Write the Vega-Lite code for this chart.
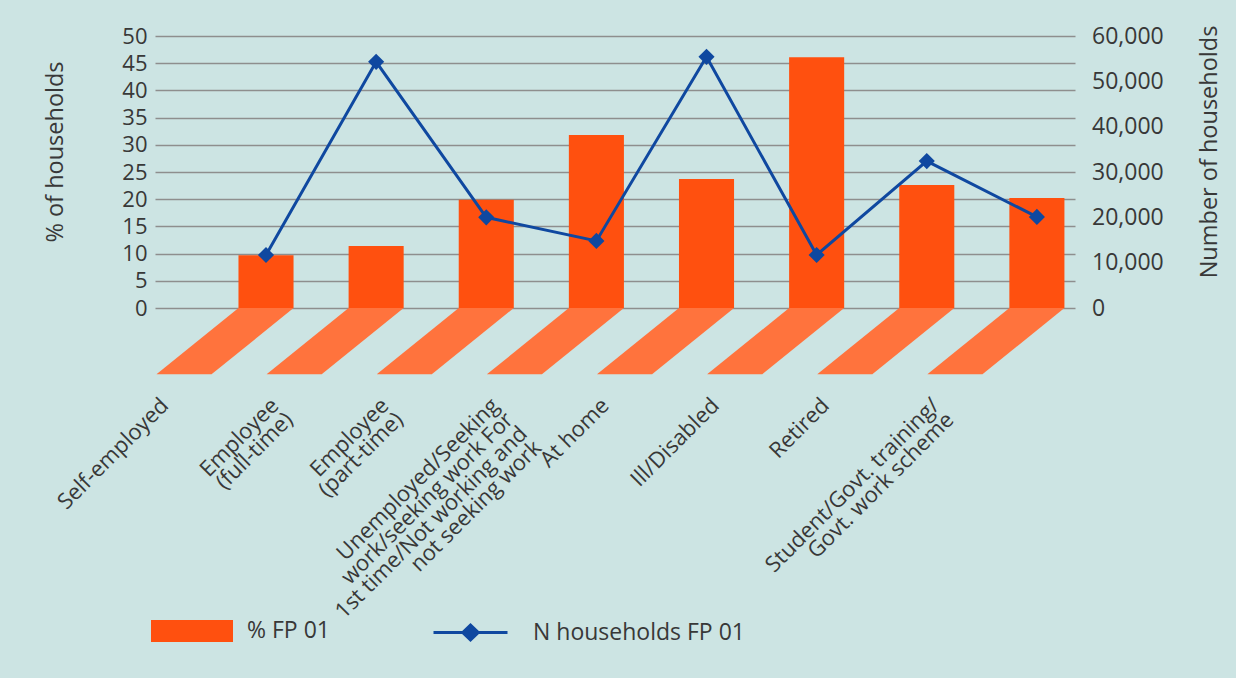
{
  "$schema": "https://vega.github.io/schema/vega-lite/v6.json",
  "width": 920,
  "height": 272,
  "autosize": {"type": "none"},
  "padding": {"left": 155, "top": 36, "right": 161, "bottom": 370},
  "background": "#CCE4E3",
  "config": {
    "font": "Open Sans",
    "view": {"stroke": null},
    "axis": {"labelColor": "#383838", "titleColor": "#383838"},
    "legend": {"labelColor": "#383838", "labelFontSize": 23, "padding": 0, "labelLimit": 400}
  },
  "data": {
    "values": [
      {"category": "Self-employed", "pct": 9.7, "n": 11700},
      {"category": "Employee\n(full-time)", "pct": 11.4, "n": 54300},
      {"category": "Employee\n(part-time)", "pct": 19.9, "n": 20000},
      {"category": "Unemployed/Seeking\nwork/seeking work For\n1st time/Not working and\nnot seeking work", "pct": 31.8, "n": 14800},
      {"category": "At home", "pct": 23.7, "n": 55400},
      {"category": "Ill/Disabled", "pct": 46.1, "n": 11700},
      {"category": "Retired", "pct": 22.6, "n": 32400},
      {"category": "Student/Govt. training/\nGovt. work scheme", "pct": 20.2, "n": 20100}
    ]
  },
  "transform": [
    {"window": [{"op": "row_number", "as": "rn"}]},
    {"calculate": "datum.rn - 1", "as": "idx"}
  ],
  "layer": [
    {
      "layer": [
        {
          "transform": [
            {"calculate": "datum.idx - 0.25", "as": "bl"},
            {"calculate": "datum.idx + 0.25", "as": "br"}
          ],
          "mark": {"type": "rect"},
          "encoding": {
            "x": {"field": "bl", "type": "quantitative", "scale": {"domain": [-1.008, 7.346], "nice": false, "zero": false}, "axis": null},
            "x2": {"field": "br"},
            "y": {
              "field": "pct", "type": "quantitative",
              "scale": {"domain": [0, 50], "nice": false, "zero": false},
              "axis": {
                "title": "% of households",
                "values": [0, 5, 10, 15, 20, 25, 30, 35, 40, 45, 50],
                "tickCount": 11, "format": "d", "labelOverlap": false,
                "grid": true, "gridColor": "#8E8E8E", "gridWidth": 1.5,
                "domain": false, "ticks": false, "tickSize": 0,
                "labelPadding": 8, "labelFontSize": 22,
                "titleFontSize": 23.5, "titleFontWeight": "normal",
                "titleAngle": 270, "titleX": -93, "titleY": 115.5,
                "titleAlign": "center", "titleBaseline": "alphabetic"
              }
            },
            "y2": {"datum": 0},
            "fill": {
              "datum": "% FP 01", "type": "nominal",
              "scale": {"range": ["#FF500F"]},
              "legend": {
                "orient": "none", "legendX": -4, "legendY": 554, "title": null,
                "symbolType": "M-1,-0.27H1V0.27H-1Z", "symbolSize": 6724,
                "symbolStrokeWidth": 0, "labelOffset": 14
              }
            }
          }
        },
        {
          "transform": [
            {"calculate": "[0, 1]", "as": "k"},
            {"flatten": ["k"]},
            {"calculate": "datum.idx - 0.25 - 0.7446 * datum.k", "as": "fx"},
            {"calculate": "datum.idx + 0.25 - 0.7446 * datum.k", "as": "fx2"},
            {"calculate": "-12.2 * datum.k", "as": "fy"}
          ],
          "mark": {"type": "area", "orient": "horizontal", "color": "#FF733D", "opacity": 1},
          "encoding": {
            "x": {"field": "fx", "type": "quantitative", "stack": null},
            "x2": {"field": "fx2"},
            "y": {"field": "fy", "type": "quantitative"},
            "detail": {"field": "category"}
          }
        },
        {
          "mark": {
            "type": "text", "angle": 315, "align": "right", "baseline": "top",
            "dx": -138, "dy": -15, "fontSize": 22, "lineHeight": 20,
            "lineBreak": "\n", "color": "#383838"
          },
          "encoding": {
            "x": {"field": "idx", "type": "quantitative"},
            "y": {"datum": 0, "type": "quantitative"},
            "text": {"field": "category"}
          }
        }
      ]
    },
    {
      "layer": [
        {
          "mark": {"type": "line", "strokeWidth": 3},
          "encoding": {
            "x": {"field": "idx", "type": "quantitative"},
            "y": {
              "field": "n", "type": "quantitative",
              "scale": {"domain": [0, 60000], "nice": false, "zero": false},
              "axis": {
                "orient": "right",
                "title": "Number of households",
                "values": [0, 10000, 20000, 30000, 40000, 50000, 60000],
                "tickCount": 7, "format": ",d", "labelOverlap": false,
                "grid": false, "domain": false, "ticks": false, "tickSize": 0,
                "labelPadding": 16.5, "labelFontSize": 23,
                "titleFontSize": 23.5, "titleFontWeight": "normal",
                "titleAngle": 270, "titleX": 141.7, "titleY": 115.5,
                "titleAlign": "center", "titleBaseline": "alphabetic"
              }
            },
            "stroke": {
              "datum": "N households FP 01", "type": "nominal",
              "scale": {"range": ["#0F48A0"]},
              "legend": {
                "orient": "none", "legendX": 277, "legendY": 558, "title": null,
                "symbolType": "M-1,0H1M-0.21,0L0,-0.2L0.21,0L0,0.2Z", "symbolSize": 5476,
                "symbolStrokeWidth": 3, "symbolFillColor": "#0F48A0", "labelOffset": 24
              }
            }
          }
        },
        {
          "mark": {"type": "point", "shape": "diamond", "size": 260, "filled": true, "color": "#0F48A0", "opacity": 1},
          "encoding": {
            "x": {"field": "idx", "type": "quantitative"},
            "y": {"field": "n", "type": "quantitative"}
          }
        }
      ]
    }
  ],
  "resolve": {"scale": {"y": "independent"}}
}
